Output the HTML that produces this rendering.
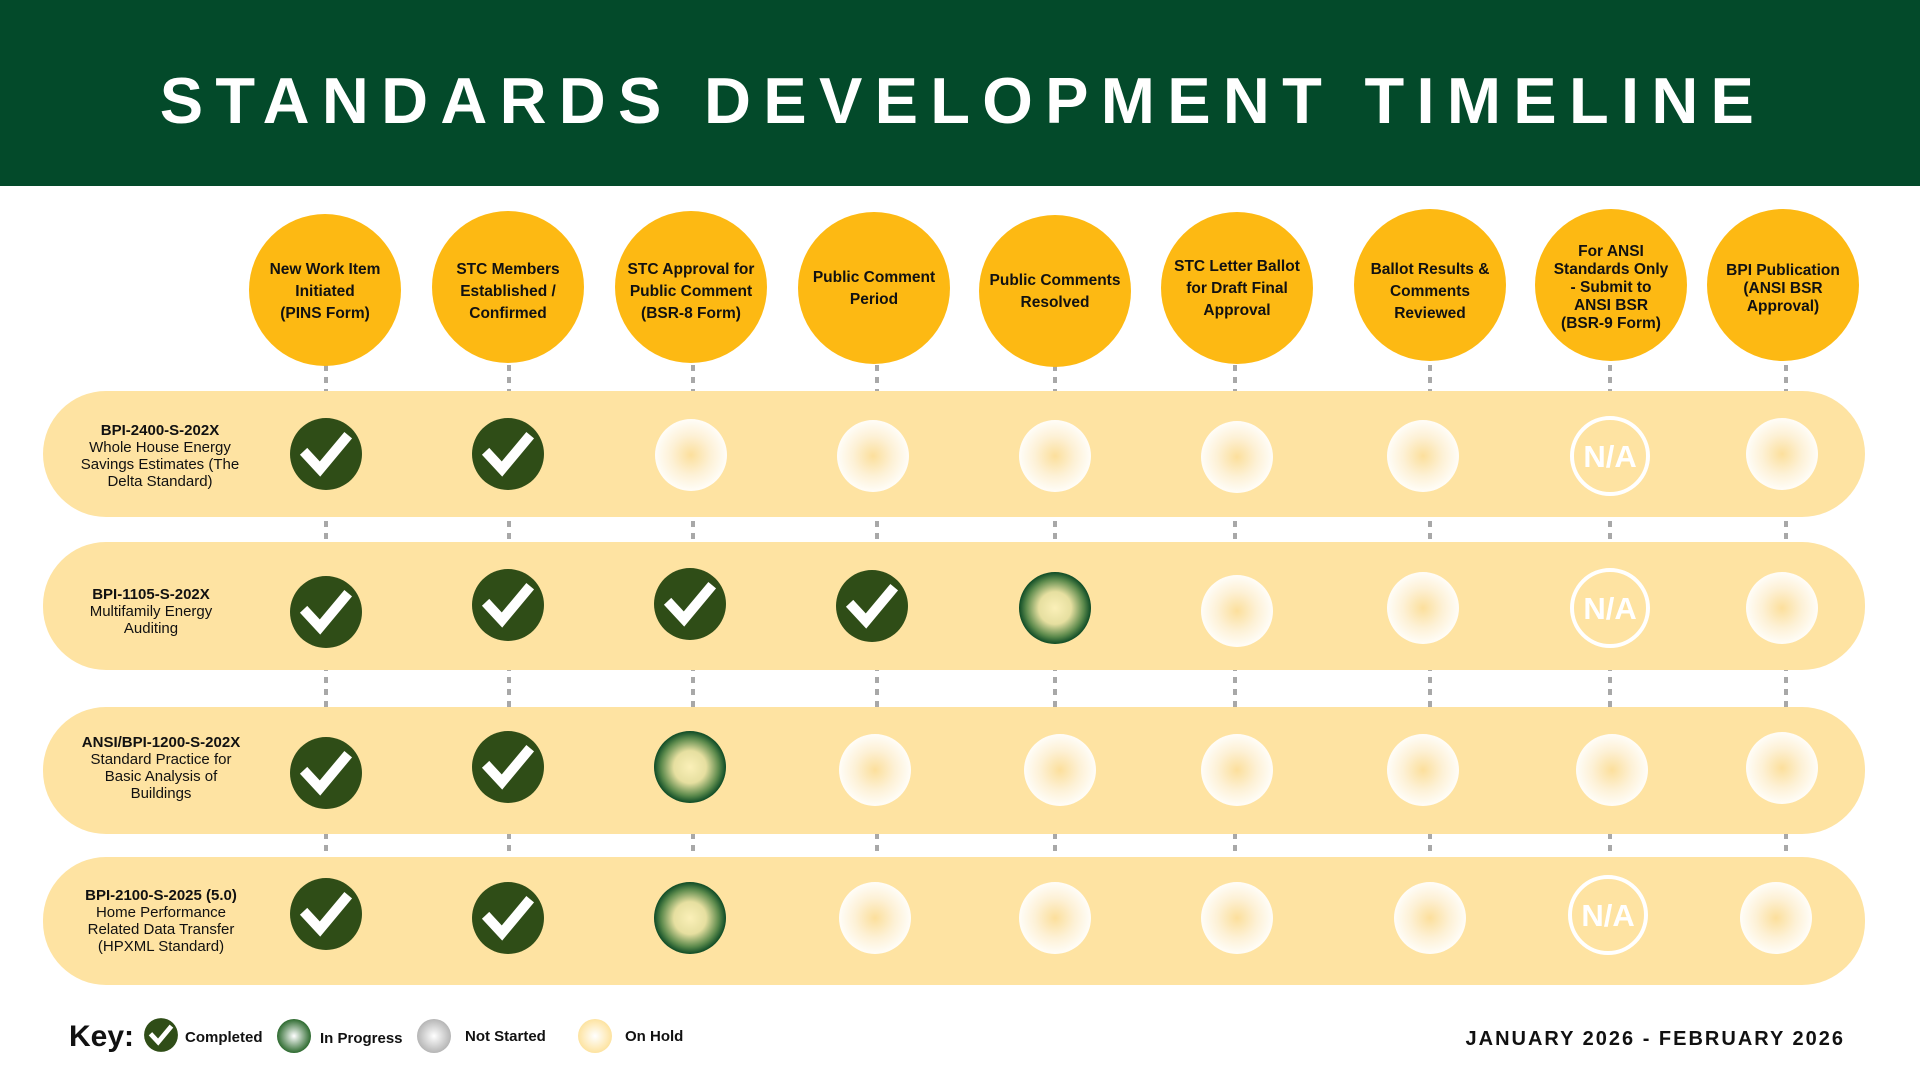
<!DOCTYPE html>
<html><head><meta charset="utf-8"><style>
html,body{margin:0;padding:0;background:#fff}
svg{display:block}
text{font-family:"Liberation Sans",sans-serif}
</style></head><body>
<svg width="1920" height="1080" viewBox="0 0 1920 1080" xmlns="http://www.w3.org/2000/svg">
<defs>
<radialGradient id="hold" cx="50%" cy="50%" r="50%"><stop offset="0" stop-color="#fcdf9c"/><stop offset="0.55" stop-color="#fdf1d6"/><stop offset="1" stop-color="#fffdf8"/></radialGradient>
<radialGradient id="prog" cx="50%" cy="50%" r="50%"><stop offset="0" stop-color="#fbf0b8"/><stop offset="0.45" stop-color="#e6dfa0"/><stop offset="0.8" stop-color="#5c8a4c"/><stop offset="1" stop-color="#0d4a25"/></radialGradient>
<radialGradient id="kprog" cx="50%" cy="50%" r="50%"><stop offset="0" stop-color="#fff"/><stop offset="1" stop-color="#2d6a2f"/></radialGradient>
<radialGradient id="kns" cx="50%" cy="50%" r="50%"><stop offset="0" stop-color="#fff"/><stop offset="1" stop-color="#b5b5b5"/></radialGradient>
<radialGradient id="khold" cx="50%" cy="50%" r="50%"><stop offset="0" stop-color="#fff"/><stop offset="1" stop-color="#fde3a0"/></radialGradient>
<g id="C"><circle r="36" fill="#2f4d17"/><path d="M-19 1 L-6 15 L19 -15" fill="none" stroke="#fff" stroke-width="10" stroke-linecap="square"/></g>
<g id="H"><circle r="36" fill="url(#hold)"/></g>
<g id="P"><circle r="36" fill="url(#prog)"/></g>
<g id="N"><circle r="38" fill="none" stroke="#fff" stroke-width="4"/><text y="11" text-anchor="middle" font-size="31" font-weight="bold" fill="#fff">N/A</text></g>
</defs>
<rect width="1920" height="186" fill="#034a2a"/>
<text x="963" y="123" text-anchor="middle" font-size="65" font-weight="bold" fill="#fff" letter-spacing="12.3">STANDARDS DEVELOPMENT TIMELINE</text>
<g stroke="#a8a8a8" stroke-width="4" stroke-dasharray="6 6">
<line x1="326" y1="365" x2="326" y2="860"/><line x1="509" y1="365" x2="509" y2="860"/><line x1="693" y1="365" x2="693" y2="860"/><line x1="877" y1="365" x2="877" y2="860"/><line x1="1055" y1="365" x2="1055" y2="860"/><line x1="1235" y1="365" x2="1235" y2="860"/><line x1="1430" y1="365" x2="1430" y2="860"/><line x1="1610" y1="365" x2="1610" y2="860"/><line x1="1786" y1="365" x2="1786" y2="860"/>
</g>
<g fill="#fdb913">
<circle cx="325" cy="290" r="76"/><circle cx="508" cy="287" r="76"/><circle cx="691" cy="287" r="76"/><circle cx="874" cy="288" r="76"/><circle cx="1055" cy="291" r="76"/><circle cx="1237" cy="288" r="76"/><circle cx="1430" cy="285" r="76"/><circle cx="1611" cy="285" r="76"/><circle cx="1783" cy="285" r="76"/>
</g>
<g font-size="15.5" font-weight="bold" fill="#111" text-anchor="middle">
<text x="325" y="274">New Work Item</text><text x="325" y="296">Initiated</text><text x="325" y="318">(PINS Form)</text>
<text x="508" y="274">STC Members</text><text x="508" y="296">Established /</text><text x="508" y="318">Confirmed</text>
<text x="691" y="274">STC Approval for</text><text x="691" y="296">Public Comment</text><text x="691" y="318">(BSR-8 Form)</text>
<text x="874" y="282">Public Comment</text><text x="874" y="304">Period</text>
<text x="1055" y="285">Public Comments</text><text x="1055" y="307">Resolved</text>
<text x="1237" y="271">STC Letter Ballot</text><text x="1237" y="293">for Draft Final</text><text x="1237" y="315">Approval</text>
<text x="1430" y="274">Ballot Results &amp;</text><text x="1430" y="296">Comments</text><text x="1430" y="318">Reviewed</text>
<text x="1611" y="256">For ANSI</text><text x="1611" y="274">Standards Only</text><text x="1611" y="292">- Submit to</text><text x="1611" y="310">ANSI BSR</text><text x="1611" y="328">(BSR-9 Form)</text>
<text x="1783" y="275">BPI Publication</text><text x="1783" y="293">(ANSI BSR</text><text x="1783" y="311">Approval)</text>
</g>
<g fill="#fee3a2">
<rect x="43" y="391" width="1822" height="126" rx="63"/>
<rect x="43" y="542" width="1822" height="128" rx="63"/>
<rect x="43" y="707" width="1822" height="127" rx="63"/>
<rect x="43" y="857" width="1822" height="128" rx="63"/>
</g>
<g font-size="15" fill="#111" text-anchor="middle">
<text x="160" y="435" font-weight="bold">BPI-2400-S-202X</text><text x="160" y="452">Whole House Energy</text><text x="160" y="469">Savings Estimates (The</text><text x="160" y="486">Delta Standard)</text>
<text x="151" y="599" font-weight="bold">BPI-1105-S-202X</text><text x="151" y="616">Multifamily Energy</text><text x="151" y="633">Auditing</text>
<text x="161" y="747" font-weight="bold">ANSI/BPI-1200-S-202X</text><text x="161" y="764">Standard Practice for</text><text x="161" y="781">Basic Analysis of</text><text x="161" y="798">Buildings</text>
<text x="161" y="900" font-weight="bold">BPI-2100-S-2025 (5.0)</text><text x="161" y="917">Home Performance</text><text x="161" y="934">Related Data Transfer</text><text x="161" y="951">(HPXML Standard)</text>
</g>
<use href="#C" x="326" y="454"/><use href="#C" x="508" y="454"/><use href="#H" x="691" y="455"/><use href="#H" x="873" y="456"/><use href="#H" x="1055" y="456"/><use href="#H" x="1237" y="457"/><use href="#H" x="1423" y="456"/><use href="#N" x="1610" y="456"/><use href="#H" x="1782" y="454"/>
<use href="#C" x="326" y="612"/><use href="#C" x="508" y="605"/><use href="#C" x="690" y="604"/><use href="#C" x="872" y="606"/><use href="#P" x="1055" y="608"/><use href="#H" x="1237" y="611"/><use href="#H" x="1423" y="608"/><use href="#N" x="1610" y="608"/><use href="#H" x="1782" y="608"/>
<use href="#C" x="326" y="773"/><use href="#C" x="508" y="767"/><use href="#P" x="690" y="767"/><use href="#H" x="875" y="770"/><use href="#H" x="1060" y="770"/><use href="#H" x="1237" y="770"/><use href="#H" x="1423" y="770"/><use href="#H" x="1612" y="770"/><use href="#H" x="1782" y="768"/>
<use href="#C" x="326" y="914"/><use href="#C" x="508" y="918"/><use href="#P" x="690" y="918"/><use href="#H" x="875" y="918"/><use href="#H" x="1055" y="918"/><use href="#H" x="1237" y="918"/><use href="#H" x="1430" y="918"/><use href="#N" x="1608" y="915"/><use href="#H" x="1776" y="918"/>
<text x="69" y="1046" font-size="30" font-weight="bold" fill="#111">Key:</text>
<g transform="translate(161,1035) scale(0.47)"><use href="#C"/></g>
<text x="185" y="1042" font-size="15" font-weight="bold" fill="#111">Completed</text>
<circle cx="294" cy="1036" r="17" fill="url(#kprog)"/>
<text x="320" y="1043" font-size="15" font-weight="bold" fill="#111">In Progress</text>
<circle cx="434" cy="1036" r="17" fill="url(#kns)"/>
<text x="465" y="1041" font-size="15" font-weight="bold" fill="#111">Not Started</text>
<circle cx="595" cy="1036" r="17" fill="url(#khold)"/>
<text x="625" y="1041" font-size="15" font-weight="bold" fill="#111">On Hold</text>
<text x="1845" y="1045" text-anchor="end" font-size="20" font-weight="bold" fill="#111" letter-spacing="2">JANUARY 2026 - FEBRUARY 2026</text>
</svg>
</body></html>
